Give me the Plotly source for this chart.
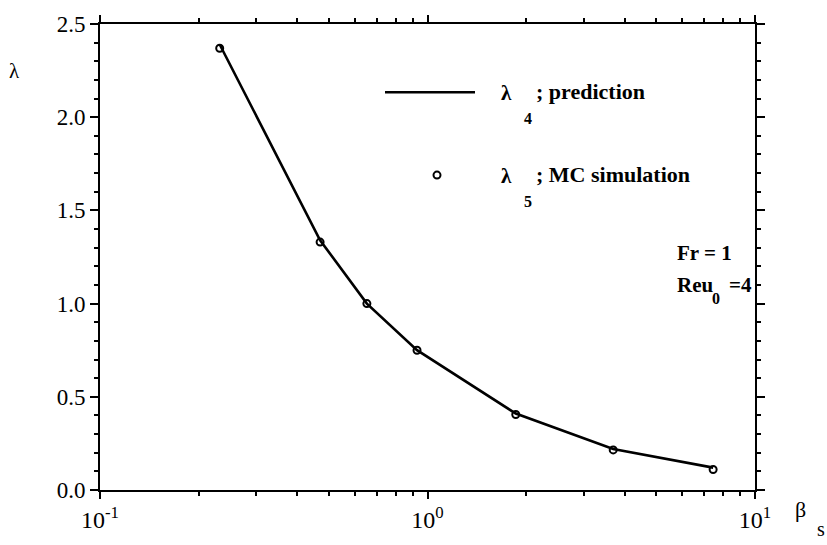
import plotly.graph_objects as go

# data
beta_s = [0.232, 0.47, 0.653, 0.929, 1.86, 3.69, 7.45]
lambda4_prediction = [2.39, 1.34, 1.00, 0.75, 0.41, 0.22, 0.12]
lambda5_mc = [2.37, 1.33, 1.00, 0.75, 0.405, 0.215, 0.11]

x_major = [0.1, 1, 10]
x_major_text = ["10<sup>-1</sup>", "10<sup>0</sup>", "10<sup>1</sup>"]
x_minor = [m * d for d in (0.1, 1) for m in range(2, 10)]
y_major = [0.0, 0.5, 1.0, 1.5, 2.0, 2.5]
y_major_text = ["0.0", "0.5", "1.0", "1.5", "2.0", "2.5"]

FONT = "Liberation Serif"
W, H = 827, 545
L, R, T, B = 100, 72, 22, 45

fig = go.Figure()
fig.add_trace(go.Scatter(x=beta_s, y=lambda4_prediction, mode="lines",
                         line=dict(color="black", width=2.6), showlegend=False))
fig.add_trace(go.Scatter(x=beta_s, y=lambda5_mc, mode="markers",
                         marker=dict(symbol="circle-open", size=7, color="black",
                                     line=dict(width=2, color="black")),
                         showlegend=False))
# invisible trace to activate the overlay axis for major x ticks
fig.add_trace(go.Scatter(x=[0.1, 10], y=[0, 0], xaxis="x2", mode="markers",
                         marker=dict(opacity=0), showlegend=False, hoverinfo="skip"))

fig.update_layout(
    width=W, height=H, margin=dict(l=L, r=R, t=T, b=B),
    paper_bgcolor="white", plot_bgcolor="white",
    font=dict(family=FONT, size=20, color="black"),
    xaxis=dict(type="log", range=[-1, 1], showgrid=False, zeroline=False,
               showline=True, linecolor="black", linewidth=2, mirror="ticks",
               tickmode="array", tickvals=x_minor, showticklabels=False,
               ticks="outside", ticklen=4, tickwidth=2, tickcolor="black"),
    xaxis2=dict(type="log", range=[-1, 1], overlaying="x", side="bottom",
                showgrid=False, zeroline=False, showline=False, mirror="ticks",
                tickmode="array", tickvals=x_major, ticktext=x_major_text,
                ticks="outside", ticklen=8, tickwidth=2, tickcolor="black",
                tickfont=dict(family=FONT, size=24)),
    yaxis=dict(range=[0, 2.5], showgrid=False, zeroline=False,
               showline=True, linecolor="black", linewidth=2, mirror="ticks",
               tickmode="array", tickvals=y_major, ticktext=y_major_text,
               ticks="outside", ticklen=8, tickwidth=2, tickcolor="black",
               tickfont=dict(family=FONT, size=23),
               minor=dict(dtick=0.1, tick0=0, ticks="outside", ticklen=4,
                          tickwidth=2, tickcolor="black")),
)

ann = []
def txt(x, y, s, size=20, xanchor="left"):
    ann.append(dict(x=x, y=y, xref="paper", yref="paper", text=s, showarrow=False,
                    xanchor=xanchor, yanchor="middle",
                    font=dict(family=FONT, size=size, color="black")))

def px(xp, yp):
    return (xp - L) / (W - L - R), 1 - (yp - T) / (H - T - B)

# axis titles
x, y = px(14, 70); txt(x, y, "λ", size=21, xanchor="center")
x, y = px(800, 520); txt(x, y, "β", size=22, xanchor="center")
x, y = px(821, 540); txt(x, y, "s", size=20, xanchor="center")

# legend
x, y = px(506, 93); txt(x, y, "<b>λ</b>", size=21, xanchor="center")
x, y = px(528, 119); txt(x, y, "<b>4</b>", size=16, xanchor="center")
x, y = px(534, 91); txt(x, y, "<b>; prediction</b>", size=22)
x, y = px(506, 178); txt(x, y, "<b>λ</b>", size=21, xanchor="center")
x, y = px(528, 204); txt(x, y, "<b>5</b>", size=16, xanchor="center")
x, y = px(534, 176); txt(x, y, "<b>; MC simulation</b>", size=22)

# parameters
x, y = px(675, 257); txt(x, y, "<b>Fr = 1</b>", size=21)
x, y = px(675, 290); txt(x, y, "<b>Reu</b>", size=21)
x, y = px(716, 304); txt(x, y, "<b>0</b>", size=16, xanchor="center")
x, y = px(727, 290); txt(x, y, "<b>=4</b>", size=21)

fig.update_layout(annotations=ann)

# legend samples (line and marker)
lx0, ly = px(385, 92)
lx1, _ = px(475, 92)
fig.add_shape(type="line", xref="paper", yref="paper", x0=lx0, x1=lx1, y0=ly, y1=ly,
              line=dict(color="black", width=2.6))
cx, cy = px(437, 177)
fig.add_trace(go.Scatter(x=[cx], y=[cy], xaxis="x3", yaxis="y3", mode="markers",
                         marker=dict(symbol="circle-open", size=7, color="black",
                                     line=dict(width=2, color="black")),
                         showlegend=False))
fig.update_layout(
    xaxis3=dict(domain=[0, 1], range=[0, 1], visible=False, overlaying="x"),
    yaxis3=dict(domain=[0, 1], range=[0, 1], visible=False, overlaying="y"),
)

fig.write_html("out.html")
